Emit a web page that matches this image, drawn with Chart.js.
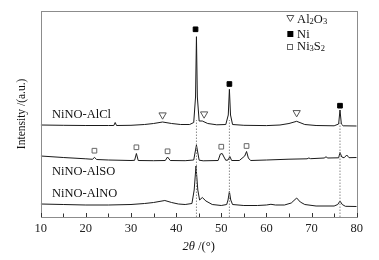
<!DOCTYPE html>
<html><head><meta charset="utf-8">
<script src="https://cdn.jsdelivr.net/npm/chart.js@4"></script>
<style>html,body{margin:0;padding:0;background:#fff}#w{width:379px;height:260px}</style>
</head><body><div id="w"><canvas id="c"></canvas></div>
<script>
// 2θ (deg) and intensity (a.u., offset traces)
const alclX = [10,15,20,25,26.2,26.5,26.8,30,33,35,37,39,41,43,43.9,44.3,44.5,44.7,45.1,45.8,47,49,51,51.55,51.8,52.05,52.5,55,60,63,65,66.7,68.5,71,75,76,76.3,76.6,77,80];
const alclY = [92,91.7,91.5,91.5,91.5,94.5,91.5,91.7,92.5,93.5,95,93.5,92.5,92.5,94.5,120,180.3,120,96,96,93.5,92.2,92.5,102,127.7,102,92.5,91.7,91.4,92,93.5,95.7,92.5,91.5,91.2,93,107,93,91.2,91];
const alsoX = [10,15,20,21.5,21.9,22.4,25,30,30.8,31.2,31.6,35,37.6,38.1,38.7,42,43.9,44.5,45.1,46,49.3,49.8,50.2,50.6,51,51.5,51.9,52.3,54,55.2,55.6,56,56.5,60,65,69,69.4,69.8,72.8,73.2,73.6,76,76.3,76.7,77.2,77.8,78.3,80];
const alsoY = [61,59.5,58.2,57.7,59.7,57.5,57,56.5,56.7,63.5,56.5,56.3,56.5,60,56.5,56.3,57,72,56.8,56.2,56.5,63,63.5,60,56.7,57,60.5,56.5,56.5,61,65.5,59,56.5,57,57.8,58.2,59,58.3,59,60.2,59,59.2,64.5,60,59.2,62,59.3,59.5];
const alnoX = [10,15,20,25,30,33,35,37.5,39,40.5,42,43.5,44,44.4,44.8,45.2,45.8,46.6,48,50,51.2,51.5,51.8,52.1,52.5,55,58,60,61,62,64,65.5,66.7,67.5,68.5,71,75,75.8,76.3,76.8,77.5,80];
const alnoY = [13,12.5,12,12,12.5,13.5,14.5,16.5,14.5,13,12.5,13.5,27,51,27,17,19.5,16,12.5,11.5,12.5,17,25.5,17,12.5,11.5,11.5,12,12.7,12,12,14,19,15,12.5,11,11,12.5,16,12.5,10.7,10.5];
// phase markers
const al2o3X = [37,46.2,66.7], al2o3Y = [102,103,104.3];
const niX = [44.3,51.8,76.3], niY = [187.7,133,111.3];
const ni3s2X = [21.9,31.2,38.1,50,55.6], ni3s2Y = [66.3,69.7,65.7,70.3,71];
const refLineX = [44.5,51.8,76.3], refLineTop = 97;
const sampleNames = ['NiNO-AlCl','NiNO-AlSO','NiNO-AlNO'];
const sampleLabelY = [102,45,23];
const xTicks = [10,20,30,40,50,60,70,80];

const pts = (xs,ys)=>xs.map((x,i)=>({x,y:ys[i]}));
const line = (xs,ys)=>({type:'line',data:pts(xs,ys),borderColor:'#1a1a1a',borderWidth:1,pointRadius:0,tension:0,fill:false});
const mark = (xs,ys,style,fill,stroke,r,rot)=>({type:'scatter',data:pts(xs,ys),pointStyle:style,pointRadius:r,pointBackgroundColor:fill,pointBorderColor:stroke,pointBorderWidth:1,pointRotation:rot||0,showLine:false});
const datasets = [line(alclX,alclY),line(alsoX,alsoY),line(alnoX,alnoY)];
refLineX.forEach(x=>datasets.unshift({type:'line',data:[{x,y:0},{x,y:refLineTop}],borderColor:'#8a8a8a',borderWidth:1,borderDash:[1.5,1.5],pointRadius:0}));
datasets.push(mark(al2o3X,al2o3Y,'triangle','rgba(0,0,0,0)','#555',4.2,180));
datasets.push(mark(niX,niY,'rect','#000','#000',3.3));
datasets.push(mark(ni3s2X,ni3s2Y,'rect','#fff','#666',3.3));

const SERIF = '"Liberation Serif","Times New Roman",serif';
const deco = {
  id:'deco',
  afterDraw(ch){
    const c=ch.ctx, a=ch.chartArea, xs=ch.scales.x, ys=ch.scales.y;
    c.save();
    c.strokeStyle='#8c8c8c'; c.lineWidth=1;
    c.strokeRect(Math.round(a.left)+0.5,Math.round(a.top)+0.5,Math.round(a.right-a.left),Math.round(a.bottom-a.top));
    c.strokeStyle='#333';
    for(let v=10; v<=80; v+=5){
      const px=Math.round(xs.getPixelForValue(v))+0.5;
      c.beginPath(); c.moveTo(px,a.bottom); c.lineTo(px,a.bottom-(v%10===0?4:3.5)); c.stroke();
    }
    c.fillStyle='#111'; c.textBaseline='middle'; c.textAlign='left';
    c.font='12.5px '+SERIF;
    sampleNames.forEach((n,i)=>c.fillText(n,xs.getPixelForValue(12.5),ys.getPixelForValue(sampleLabelY[i])));
    // legend
    const sx=xs.getPixelForValue(65.3), tx=xs.getPixelForValue(66.8);
    const rows=[[199,[['Al',0],['2',1],['O',0],['3',1]]],[184,[['Ni',0]]],[172.5,[['Ni',0],['3',1],['S',0],['2',1]]]];
    rows.forEach((r,i)=>{
      const py=ys.getPixelForValue(r[0]);
      let x=tx;
      r[1].forEach(([t,sub])=>{
        c.font=(sub?'8.5px ':'12.5px ')+SERIF;
        c.fillText(t,x,py+(sub?4:2));
        x+=c.measureText(t).width;
      });
      c.lineWidth=1;
      if(i===0){c.strokeStyle='#555';c.beginPath();c.moveTo(sx-3.5,py-2.5);c.lineTo(sx+3.5,py-2.5);c.lineTo(sx,py+3.5);c.closePath();c.stroke();}
      if(i===1){c.fillStyle='#000';c.fillRect(sx-3,py-2,6,6);c.fillStyle='#111';}
      if(i===2){c.strokeStyle='#666';c.strokeRect(Math.round(sx-3)+0.5,Math.round(py-1)+0.5,5,5);}
    });
    // axis titles
    c.fillStyle='#111'; c.textBaseline='middle';
    const cx=(a.left+a.right)/2, ty=247;
    c.font='italic 12.5px '+SERIF; const w1=c.measureText('2θ').width;
    c.font='12.5px '+SERIF; const w2=c.measureText(' /(°)').width;
    let x0=cx-(w1+w2)/2;
    c.font='italic 12.5px '+SERIF; c.fillText('2θ',x0,ty);
    c.font='12.5px '+SERIF; c.fillText(' /(°)',x0+w1,ty);
    c.translate(22,(a.top+a.bottom)/2); c.rotate(-Math.PI/2);
    c.textAlign='center'; c.font='11.5px '+SERIF; c.fillText('Intensity /(a.u.)',0,0);
    c.restore();
  }
};

new Chart(document.getElementById('c'),{
  data:{datasets},
  options:{
    responsive:true, maintainAspectRatio:false, animation:false,
    layout:{padding:{left:40.7,top:10.7,right:22.3,bottom:0}},
    plugins:{legend:{display:false},tooltip:{enabled:false}},
    scales:{
      x:{type:'linear',min:10,max:80,afterFit(s){s.height=43;},
        afterBuildTicks(s){s.ticks=xTicks.map(v=>({value:v}));},
        grid:{display:false,drawTicks:false},border:{display:false},
        ticks:{padding:4,color:'#222',font:{family:SERIF,size:12.5},maxRotation:0}},
      y:{type:'linear',min:0,max:206.3,display:false}
    }
  },
  plugins:[deco]
});
</script></body></html>
